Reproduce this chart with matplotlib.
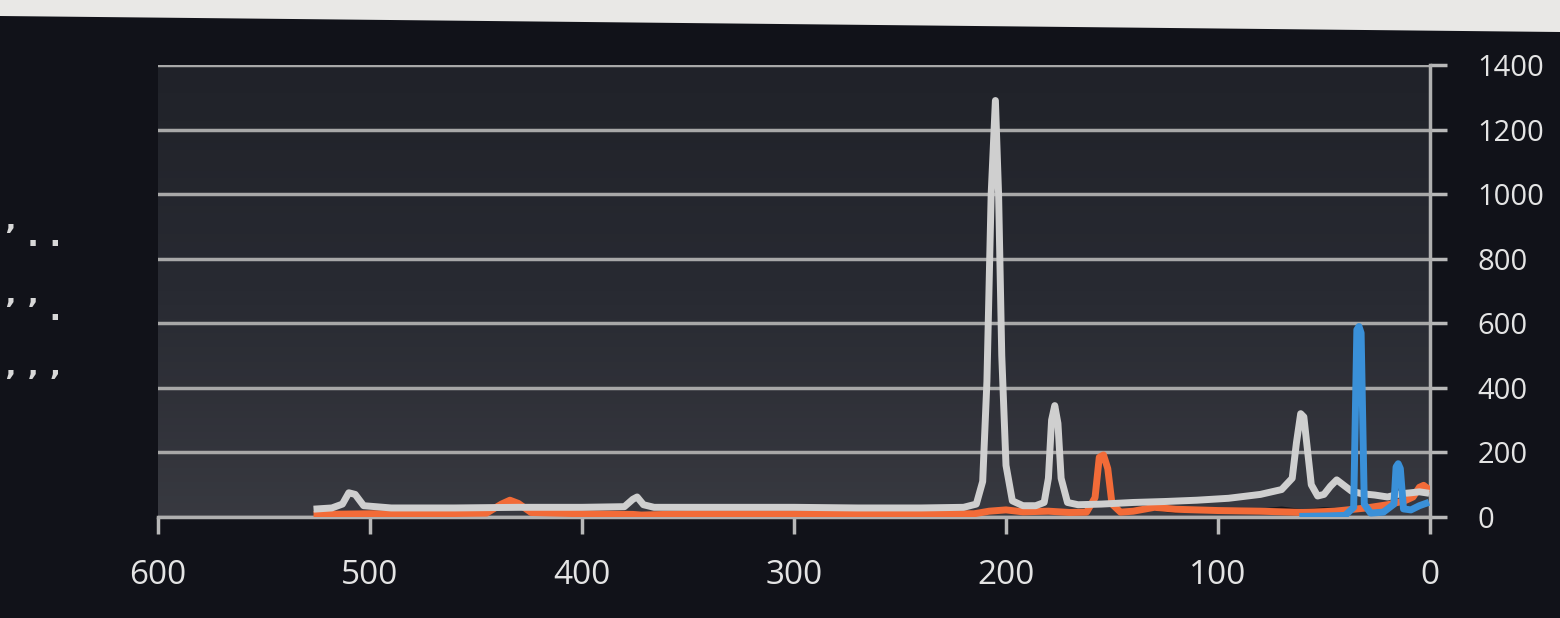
import numpy as np
import matplotlib
matplotlib.use('Agg')
from matplotlib import pyplot as plt
from matplotlib.patches import Polygon
from matplotlib.colors import LinearSegmentedColormap

plt.rcParams['font.family'] = ['Open Sans', 'DejaVu Sans']

# gray series (main spectrum)
gray_x = [525, 518, 513, 510, 507, 503, 490, 460, 430, 400, 380, 376, 374, 371, 366, 340,
          300, 270, 240, 220, 214, 211, 209, 207, 205, 203.5, 202, 200, 197, 192, 186, 182,
          180, 178.5, 177, 175.5, 174, 171, 166, 155, 140, 125, 110, 95, 80, 70, 65, 63,
          61, 59.5, 58, 56, 53, 50, 47, 44, 41, 37, 32, 26, 20, 14, 9, 5, 2]
gray_y = [25, 28, 40, 75, 70, 35, 28, 28, 30, 30, 32, 55, 62, 38, 30, 30,
          30, 28, 28, 30, 40, 110, 420, 1000, 1290, 1000, 500, 160, 50, 35, 35, 45,
          120, 300, 345, 290, 120, 45, 38, 40, 45, 48, 52, 58, 70, 85, 120, 230,
          320, 310, 220, 100, 65, 70, 95, 115, 100, 80, 72, 68, 62, 72, 75, 78, 75]

# orange series
orange_x = [525, 500, 470, 445, 438, 434, 430, 424, 400, 376, 372, 350, 300, 250, 215, 208,
            200, 192, 180, 170, 162, 158, 156, 154, 152, 150, 146, 140, 130, 120, 100, 80,
            60, 45, 30, 20, 12, 8, 5, 3, 1]
orange_y = [8, 10, 10, 12, 40, 52, 42, 14, 10, 8, 6, 10, 10, 10, 10, 18,
            22, 16, 18, 14, 15, 60, 185, 192, 150, 40, 15, 18, 30, 24, 20, 18,
            14, 18, 28, 38, 50, 62, 92, 98, 88]

# blue series
blue_x = [60, 50, 40, 36, 34.5, 33.5, 32.5, 31, 28, 22, 17, 16, 15, 14, 12.5, 9, 5, 2]
blue_y = [2, 3, 5, 30, 580, 590, 570, 40, 12, 15, 40, 155, 165, 150, 25, 22, 35, 42]

# dark series close to baseline
dark_x = [140, 130, 120, 110, 100, 90, 80, 70, 60, 50, 40]
dark_y = [22, 26, 18, 22, 18, 22, 20, 26, 18, 24, 20]

x_ticks = [600, 500, 400, 300, 200, 100, 0]
y_ticks = [0, 200, 400, 600, 800, 1000, 1200, 1400]
left_labels = ['\u2019 . .', '\u2019 \u2019 .', '\u2019 \u2019 \u2019']

fig = plt.figure(figsize=(15.6, 6.18), dpi=100)
fig.patch.set_facecolor('#111219')

# white strip at the top (photo of screen)
fig.patches.append(Polygon([(0, 1), (1, 1), (1, 1 - 32 / 618), (0, 1 - 16 / 618)],
                           closed=True, transform=fig.transFigure,
                           facecolor='#e9e8e6', edgecolor='none', zorder=0))

ax = fig.add_axes([158 / 1560, 1 - 517 / 618, (1430 - 158) / 1560, (517 - 65) / 618])

# screen glare: plot area gets lighter towards the bottom
bg = LinearSegmentedColormap.from_list('bg', ['#202229', '#282a32', '#383940'])
ax.imshow(np.linspace(0, 1, 64).reshape(-1, 1), cmap=bg, aspect='auto',
          extent=[600, 0, 0, 1400], origin='upper', zorder=0)

ax.plot(dark_x, dark_y, color='#15161b', lw=3, zorder=2)
ax.plot(orange_x, orange_y, color='#f26b38', lw=5, zorder=3)
ax.plot(gray_x, gray_y, color='#cfcfcf', lw=5, zorder=4)
ax.plot(blue_x, blue_y, color='#3a90d8', lw=5, zorder=5)

ax.set_xlim(600, 0)
ax.set_ylim(0, 1400)
ax.set_xticks(x_ticks)
ax.set_yticks(y_ticks)
ax.yaxis.tick_right()
ax.grid(axis='y', color='#a8a8a8', lw=2.5, zorder=1)

for side in ['top', 'left']:
    ax.spines[side].set_visible(False)
for side in ['bottom', 'right']:
    ax.spines[side].set_color('#b0b0b0')
    ax.spines[side].set_linewidth(2.5)

ax.tick_params(axis='both', colors='#b8b8b8', labelcolor='#e4e4e4', width=2.5, length=12)
ax.tick_params(axis='y', pad=22, labelsize=21)
ax.tick_params(axis='x', pad=18, labelsize=24)

for i, lab in enumerate(left_labels):
    fig.text(5 / 1560, 1 - (238 + i * 73) / 618, lab, color='#d8d8d8', fontsize=22,
             fontweight='bold', va='center', ha='left', family='DejaVu Sans')

fig.savefig('out.png', dpi=100, facecolor=fig.get_facecolor())
